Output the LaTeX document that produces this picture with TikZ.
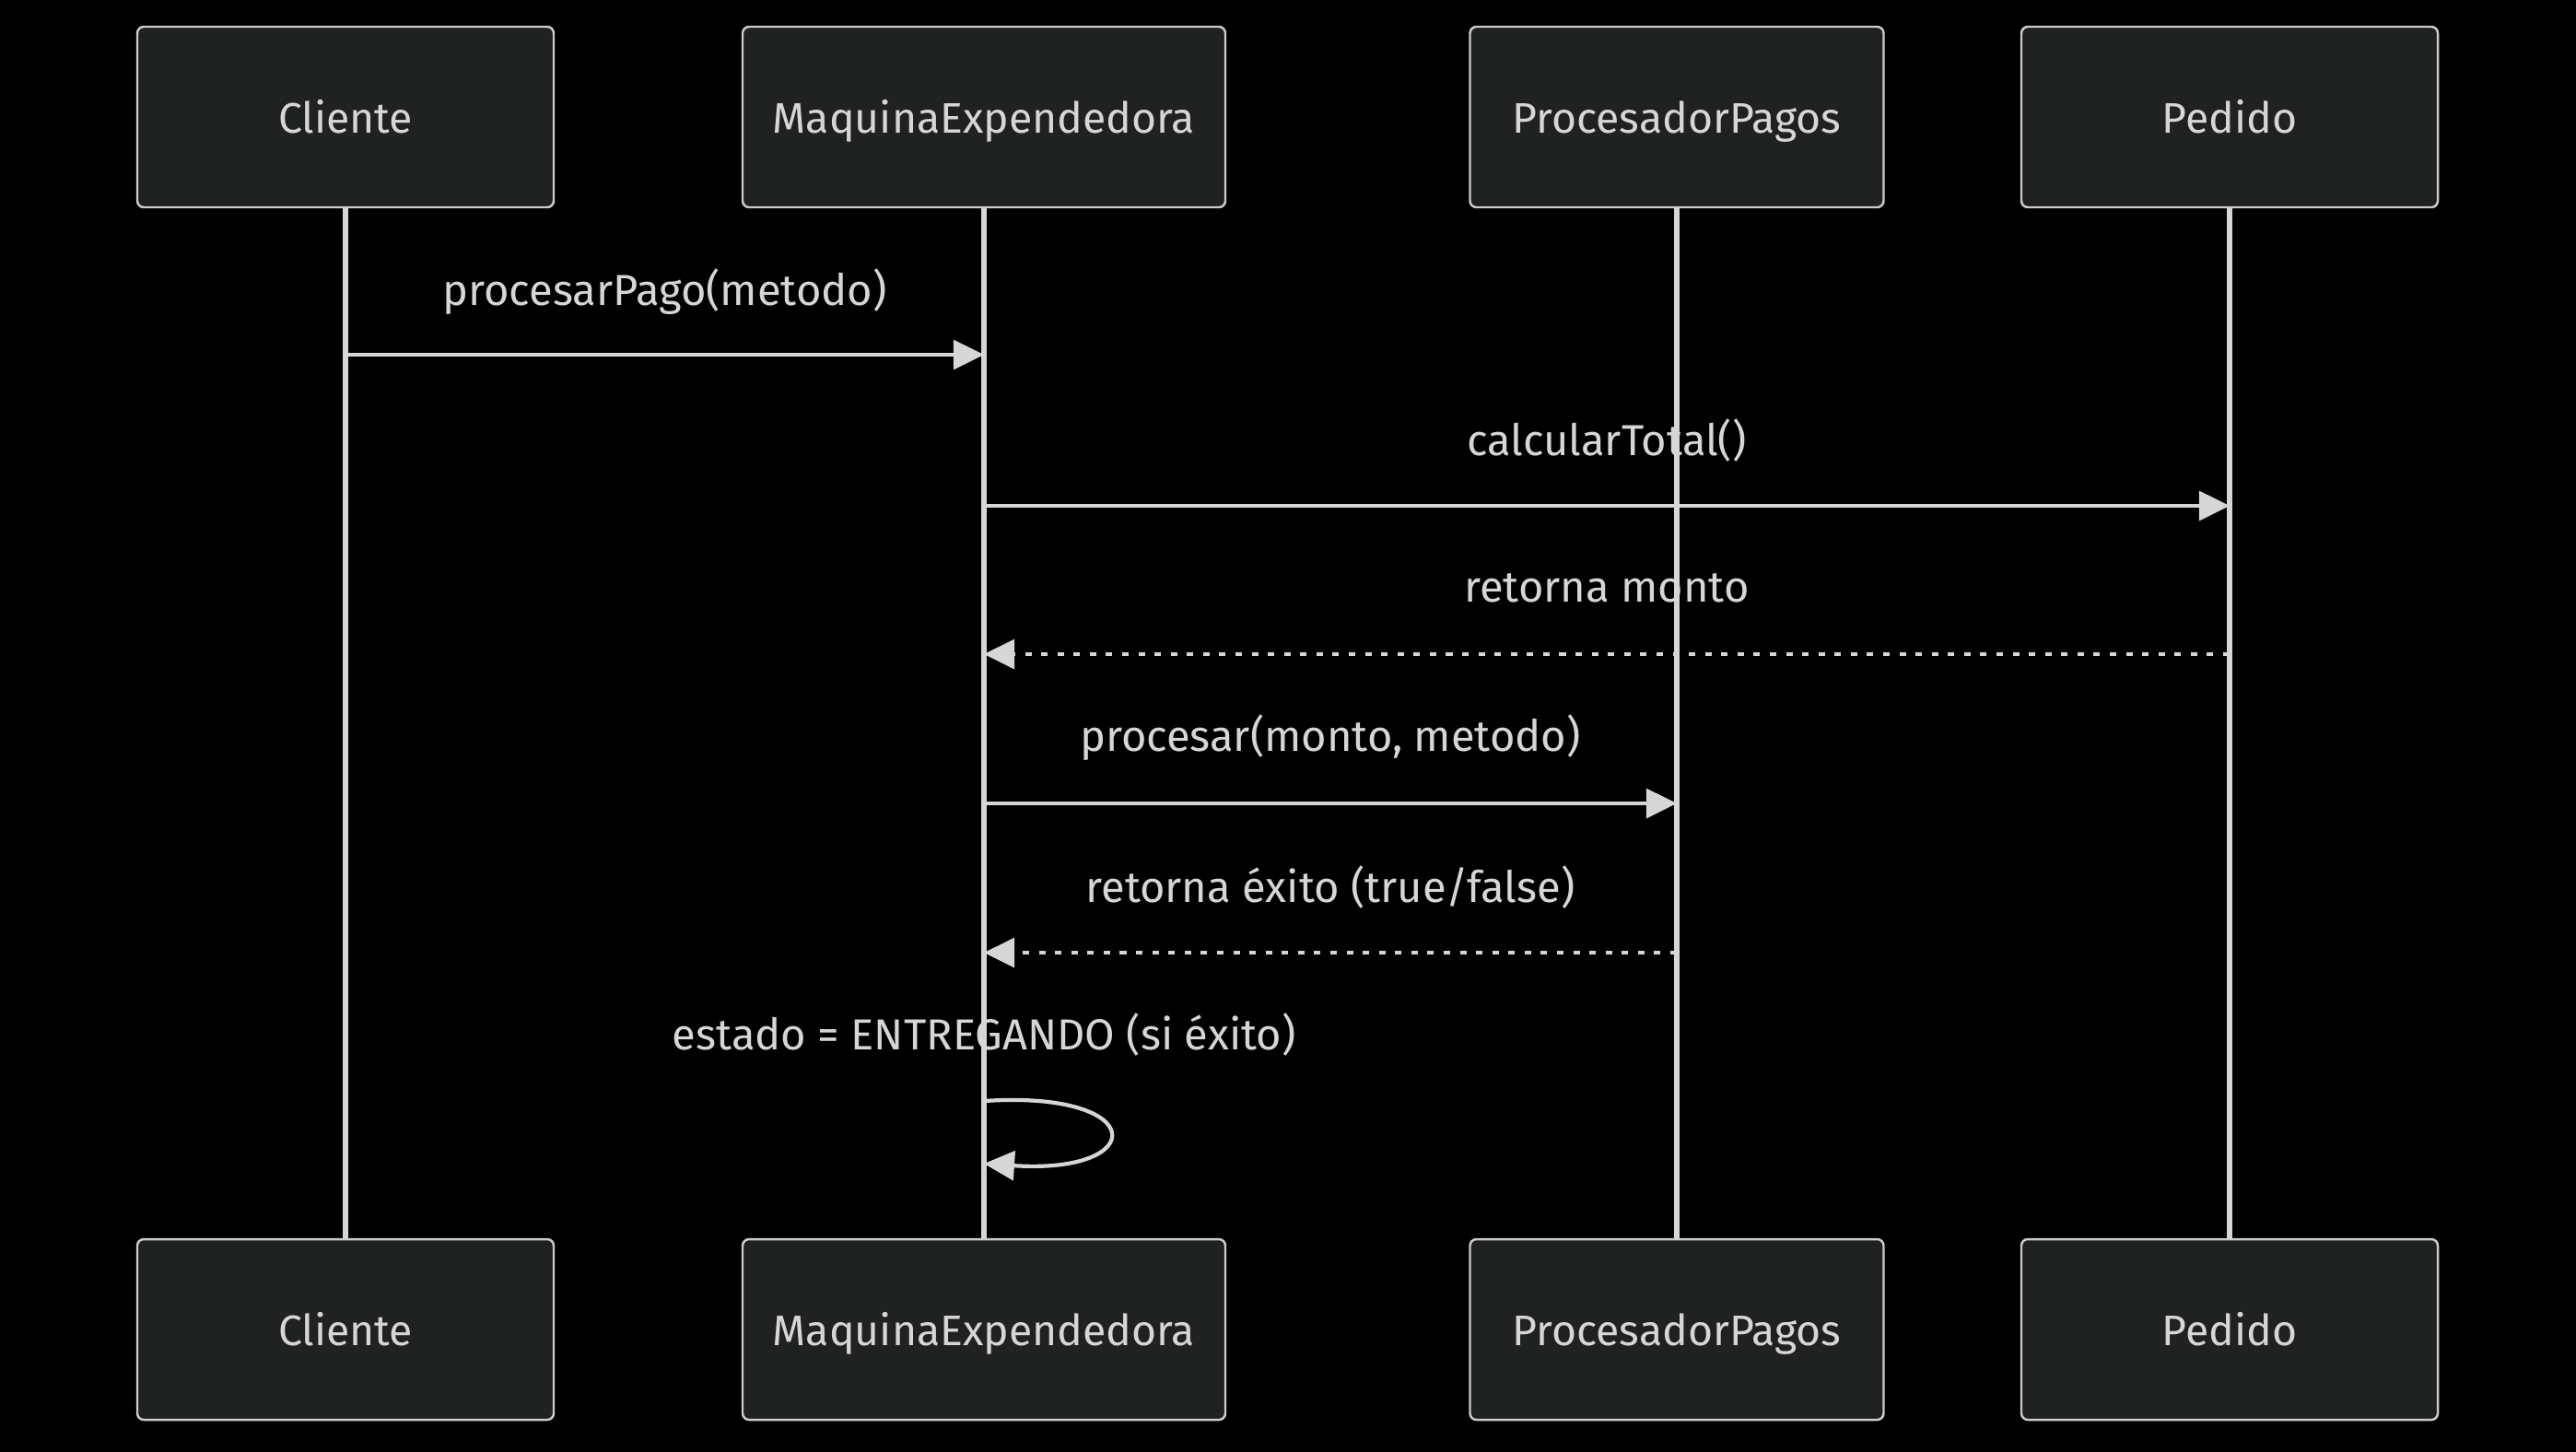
\documentclass[tikz,border=0pt]{standalone}
\usepackage{fontspec}
\setmainfont{Fira Sans}
\usetikzlibrary{arrows.meta,positioning,calc}
\definecolor{bgC}{RGB}{0,0,0}
\definecolor{boxC}{RGB}{32,33,33}
\definecolor{rimC}{RGB}{204,204,204}
\definecolor{inkC}{RGB}{214,214,214}
\tikzset{
  actor/.style={draw=rimC,fill=boxC,rounded corners=2pt,line width=0.7pt,minimum width=4.52cm,minimum height=1.96cm,text=inkC,text height=10.2pt,text depth=0pt,font=\fontsize{13.2}{16}\selectfont},
  life/.style={draw=inkC,line width=1.5pt},
  msg/.style={draw=inkC,line width=1.2pt,-{Triangle[length=9.4pt,width=9pt]}},
  ret/.style={msg,dash pattern=on 2pt off 3pt},
  lbl/.style={text=inkC,font=\fontsize{13.4}{16}\selectfont}
}
\begin{document}
\begin{tikzpicture}
  \useasboundingbox (0,0) rectangle (27.96,-15.75);
  \fill[bgC] (-0.1,0.1) rectangle (28.06,-15.85);
  % Participants (top)
  \node[actor] (cliTop) at (3.75,-1.27) {Cliente};
  \node[actor, minimum width=5.24cm] (maqTop) at (10.68,-1.27) {MaquinaExpendedora};
  \node[actor, minimum width=4.49cm] (proTop) at (18.20,-1.27) {ProcesadorPagos};
  \node[actor] (pedTop) at (24.20,-1.27) {Pedido};

  % Participants (bottom)
  \node[actor] (cliBot) at (3.75,-14.43) {Cliente};
  \node[actor, minimum width=5.24cm] (maqBot) at (10.68,-14.43) {MaquinaExpendedora};
  \node[actor, minimum width=4.49cm] (proBot) at (18.20,-14.43) {ProcesadorPagos};
  \node[actor] (pedBot) at (24.20,-14.43) {Pedido};

  % Lifelines
  \foreach \p in {cli,maq,pro,ped}
    \draw[life] (\p Top.south) -- (\p Bot.north);

  % Messages
  \draw[msg] (cliTop.south |- 0,-3.85) -- (maqTop.south |- 0,-3.85);
  \node[lbl] (m1) at ($(cliTop)!0.5!(maqTop)+(0,-1.9)$) {procesarPago(metodo)};

  \draw[msg] (maqTop.south |- 0,-5.49) -- (pedTop.south |- 0,-5.49);
  \node[lbl] (m2) at ($(maqTop)!0.5!(pedTop)+(0,-3.51)$) {calcularTotal()};

  \draw[ret] (pedTop.south |- 0,-7.10) -- (maqTop.south |- 0,-7.10);
  \node[lbl] (m3) at ($(maqTop)!0.5!(pedTop)+(0,-5.11)$) {retorna monto};

  \draw[msg] (maqTop.south |- 0,-8.72) -- (proTop.south |- 0,-8.72);
  \node[lbl] (m4) at ($(maqTop)!0.5!(proTop)+(0,-6.74)$) {procesar(monto, metodo)};

  \draw[ret] (proTop.south |- 0,-10.34) -- (maqTop.south |- 0,-10.34);
  \node[lbl] (m5) at ($(maqTop)!0.5!(proTop)+(0,-8.36)$) {retorna éxito (true/false)};

  % Self message
  \coordinate (selfA) at (maqTop.south |- 0,-11.95);
  \coordinate (selfB) at (maqTop.south |- 0,-12.63);
  \draw[msg] (selfA) .. controls ($(selfA)+(1.8,0.12)$) and ($(selfB)+(1.8,-0.12)$) .. (selfB);
  \node[lbl] (m6) at ($(maqTop)+(0,-9.96)$) {estado = ENTREGANDO (si éxito)};
\end{tikzpicture}
\end{document}
